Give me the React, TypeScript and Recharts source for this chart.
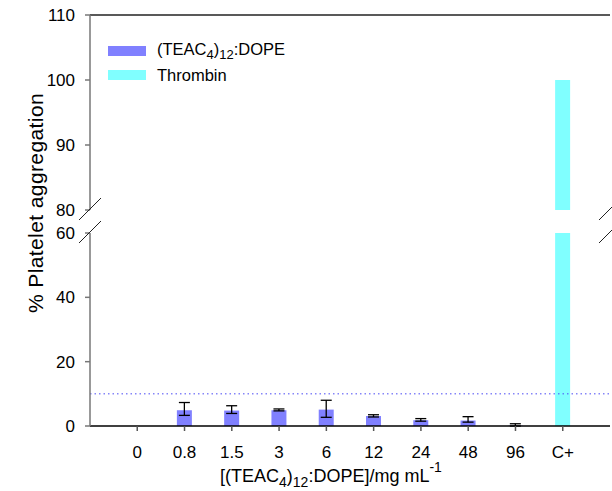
import { BarChart, Bar, XAxis, YAxis, ErrorBar, ReferenceLine, Legend } from "recharts";

const categories = ["0", "0.8", "1.5", "3", "6", "12", "24", "48", "96", "C+"];
const teacValues = [0, 4.9, 4.8, 4.9, 5.1, 3.1, 1.8, 1.7, 0.1, null];
const teacErrors = [null, [1.6, 2.4], [0.9, 1.5], [0.2, 0.4], [2.4, 2.9], [0.3, 0.4], [0.3, 0.5], [0.5, 1.2], [0.1, 0.6], null];
const thrombinValues = [null, null, null, null, null, null, null, null, null, 100];
const topTicks = [80, 90, 100, 110];
const bottomTicks = [0, 20, 40, 60];
const threshold = 10;

const data = categories.map((cat, i) => ({
  cat,
  teac: teacValues[i],
  err: teacErrors[i],
  thrombin: thrombinValues[i],
}));

const FONT = "'Liberation Sans', Arial, sans-serif";
const PAD = { left: 23.6, right: 23.6 };
const TEAC_COLOR = "#8080ff";
const THROMBIN_COLOR = "#80ffff";

function renderLegend(props: any) {
  const { payload } = props;
  return (
    <div style={{ fontFamily: FONT, fontSize: 16.5, color: "#000" }}>
      {(payload || []).map((p: any) => (
        <div key={p.value} style={{ display: "flex", alignItems: "center", height: 24 }}>
          <span style={{ display: "inline-block", width: 38, height: 10, background: p.color, marginRight: 11 }} />
          {p.dataKey === "teac" ? (
            <span>
              (TEAC<sub style={{ fontSize: 13 }}>4</sub>)<sub style={{ fontSize: 13 }}>12</sub>:DOPE
            </span>
          ) : (
            <span>{p.value}</span>
          )}
        </div>
      ))}
    </div>
  );
}

function XLabel(props: any) {
  const { viewBox } = props;
  const x = viewBox.x + 130;
  const y = viewBox.y + 56;
  return (
    <text x={x} y={y} fontFamily={FONT} fontSize={18} fill="#000">
      [(TEAC
      <tspan fontSize={14} dy={5}>4</tspan>
      <tspan dy={-5}>)</tspan>
      <tspan fontSize={14} dy={5}>12</tspan>
      <tspan dy={-5}>:DOPE]/mg mL</tspan>
      <tspan fontSize={14} dy={-10}>-1</tspan>
    </text>
  );
}

const tickStyle = { fontFamily: FONT, fontSize: 17, fill: "#000" };

export default function App() {
  return (
    <div style={{ position: "absolute", left: 0, top: 0, width: 612, height: 491, background: "#fff" }}>
      {/* upper segment 80-110 */}
      <div style={{ position: "absolute", left: 0, top: 0 }}>
        <BarChart width={612} height={225} data={data} margin={{ top: 15, right: 2, bottom: 15, left: 0 }}>
          <XAxis dataKey="cat" hide padding={PAD} />
          <YAxis
            domain={[80, 110]}
            ticks={topTicks}
            interval={0}
            allowDataOverflow
            width={90}
            fontSize={17}
            tick={tickStyle}
            tickSize={5}
            tickMargin={10}
            axisLine={{ stroke: "#777", strokeWidth: 1.5 }}
            tickLine={{ stroke: "#777", strokeWidth: 1.5 }}
          />
          <YAxis
            yAxisId="right"
            orientation="right"
            domain={[80, 110]}
            width={0}
            tick={false}
            tickLine={false}
            axisLine={{ stroke: "#222", strokeWidth: 1.5 }}
          />
          <ReferenceLine y={110} stroke="#222" strokeWidth={1.5} />
          <Legend
            layout="vertical"
            align="center"
            verticalAlign="middle"
            wrapperStyle={{ left: 108, top: 39, width: 250 }}
            content={renderLegend}
          />
          <Bar dataKey="teac" name="(TEAC4)12:DOPE" stackId="a" fill={TEAC_COLOR} barSize={15} isAnimationActive={false} />
          <Bar dataKey="thrombin" name="Thrombin" stackId="a" fill={THROMBIN_COLOR} barSize={15} isAnimationActive={false} />
        </BarChart>
      </div>

      {/* lower segment 0-60 */}
      <div style={{ position: "absolute", left: 0, top: 210 }}>
        <BarChart width={612} height={281} data={data} margin={{ top: 23, right: 2, bottom: 0, left: 0 }}>
          <XAxis
            dataKey="cat"
            padding={PAD}
            height={65}
            interval={0}
            fontSize={17}
            tick={tickStyle}
            tickSize={5}
            tickMargin={15}
            axisLine={{ stroke: "#000", strokeWidth: 1.5 }}
            tickLine={{ stroke: "#555", strokeWidth: 1.5 }}
            label={<XLabel />}
          />
          <YAxis
            domain={[0, 60]}
            ticks={bottomTicks}
            interval={0}
            allowDataOverflow
            width={90}
            fontSize={17}
            tick={tickStyle}
            tickSize={5}
            tickMargin={10}
            axisLine={{ stroke: "#777", strokeWidth: 1.5 }}
            tickLine={{ stroke: "#777", strokeWidth: 1.5 }}
          />
          <YAxis
            yAxisId="right"
            orientation="right"
            domain={[0, 60]}
            width={0}
            tick={false}
            tickLine={false}
            axisLine={{ stroke: "#222", strokeWidth: 1.5 }}
          />
          <ReferenceLine y={threshold} stroke="#4a4af5" strokeDasharray="1.5 3" />
          <Bar dataKey="teac" stackId="a" fill={TEAC_COLOR} barSize={15} isAnimationActive={false}>
            <ErrorBar dataKey="err" width={5.5} stroke="#000" strokeWidth={1.3} direction="y" />
          </Bar>
          <Bar dataKey="thrombin" stackId="a" fill={THROMBIN_COLOR} barSize={15} isAnimationActive={false} />
        </BarChart>
      </div>

      {/* axis break marks and y title */}
      <svg width={612} height={491} style={{ position: "absolute", left: 0, top: 0, pointerEvents: "none" }}>
        <g stroke="#222" strokeWidth={1}>
          <line x1={79} y1={220} x2={101} y2={198} />
          <line x1={79} y1={243} x2={101} y2={221} />
          <line x1={599} y1={220} x2={621} y2={198} />
          <line x1={599} y1={243} x2={621} y2={221} />
        </g>
        <text
          x={35}
          y={203}
          transform="rotate(-90 35 203)"
          textAnchor="middle"
          dominantBaseline="central"
          fontFamily={FONT}
          fontSize={21}
          letterSpacing={0.4}
          fill="#000"
        >
          % Platelet aggregation
        </text>
      </svg>
    </div>
  );
}
